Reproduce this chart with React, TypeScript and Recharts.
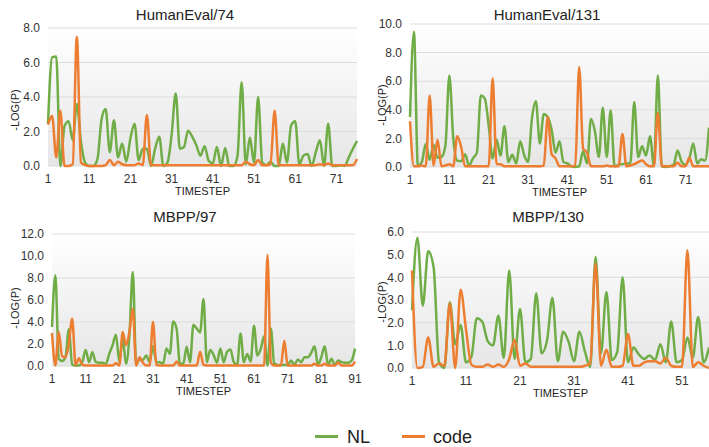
import React from "react"
import { LineChart, Line, XAxis, YAxis, CartesianGrid } from "recharts"

// HumanEval/74
const he74NL = [
  2.45, 6.3, 6.35, 0, 2.3, 2.6, 1.5, 3.6, 1.4, 0.2,
  0, 0, 0.4, 2.7, 3.3, 0.8, 2.65, 0.5, 1.3, 0.25,
  1.6, 2.45, 0.35, 1.0, 1.0, 0, 1.0, 1.7, 0, 0.2,
  1.8, 4.2, 1.0, 1.1, 2.05, 1.7, 1.2, 0.6, 1.15, 0.3,
  0.15, 1.1, 0, 1.05, 0, 0, 0.6, 4.85, 0.1, 1.65,
  0.2, 4.0, 0.2, 0.05, 0.25, 0, 0, 1.3, 0.2, 2.35,
  2.6, 0.1, 0.6, 0.7, 0, 0.8, 1.5, 0, 2.45, 0,
  0, 0.05, 0, 0.5, 1.0, 1.45,
]
const he74Code = [
  2.4, 2.9, 0.5, 3.2, 0, 0, 0.1, 7.5, 0.2, 0.05,
  0, 0, 0, 0, 0.05, 0.35, 0.05, 0.25, 0.1, 0.05,
  0.05, 0.05, 0.15, 0.05, 2.95, 0.05, 0.05, 0.05, 0.05, 0.05,
  0.05, 0.05, 0.05, 0.05, 0.05, 0.05, 0.05, 0.05, 0.05, 0.05,
  0.05, 0.05, 0.05, 0.05, 0.05, 0.05, 0.05, 0.05, 0.25, 0.1,
  0.05, 0.35, 0.05, 0.05, 0.1, 3.2, 0.05, 0.05, 0.05, 0.05,
  0.05, 0.05, 0.05, 0.05, 0.05, 0.05, 0.1, 0.05, 0.15, 0.05,
  0.05, 0.05, 0.05, 0.05, 0.05, 0.4,
]

// HumanEval/131
const he131NL = [
  3.5, 9.45, 0.1, 0.35, 1.6, 0.5, 1.55, 0.65, 0.7, 1.5,
  6.4, 2.0, 0.45, 0.4, 0.9, 0.1, 0.6, 1.0, 5.0, 4.8,
  2.9, 0.6, 1.9, 0.8, 2.85, 0.35, 0.85, 0.25, 1.8, 0.85,
  0.35, 3.4, 4.6, 1.65, 3.7, 3.5, 2.6, 1.0, 1.8, 0.35,
  0.25, 0.05, 0, 0.05, 1.1, 0.25, 3.35, 2.5, 0.7, 4.15,
  0.7, 3.95, 0.05, 0.15, 0.2, 0.25, 0.25, 4.55, 0.7, 1.45,
  0.8, 2.15, 0.1, 6.4, 0.05, 0, 0.05, 0.15, 1.15, 0.4,
  0.15, 0.6, 1.65, 0.25, 0.55, 0.45, 2.75,
]
const he131Code = [
  3.2, 0.05, 0.05, 0.1, 0.05, 5.0, 0.1, 1.9, 0.05, 0.1,
  0.2, 0.05, 2.15, 1.4, 0.05, 0.05, 0.05, 0.05, 0.05, 0.05,
  0.05, 6.2, 0.2, 0.2, 0.05, 0.05, 0.05, 0.05, 0.05, 0.05,
  0.05, 0.05, 0.05, 0.05, 0.1, 3.5, 0.9, 0.6, 0.05, 0.05,
  0.05, 0.05, 0.1, 7.0, 1.3, 1.0, 0.05, 0.05, 0.05, 0.05,
  0.1, 0.05, 0.05, 0.05, 2.3, 0.05, 0.1, 0.2, 0.35, 0.45,
  0.2, 0.05, 0.05, 3.8, 0.05, 0.05, 0.05, 0.05, 0.3, 0.05,
  0.05, 0.65, 0.05, 0.05, 0.05, 0.05, 0.05,
]

// MBPP/97
const mb97NL = [
  3.55, 8.25, 0.65, 0.45, 0.8, 3.35, 0.1, 0.05, 0.05, 0.35,
  1.45, 0.35, 1.25, 0.35, 0.3, 0.3, 0.2, 1.1, 1.9, 2.85,
  0.4, 2.5, 0.2, 2.8, 8.55, 0.2, 0.6, 0.55, 0.95, 0.35,
  1.8, 0.35, 0.35, 0.2, 1.6, 1.1, 4.05, 3.4, 0.2, 0.2,
  1.75, 0.35, 3.75, 3.4, 3.05, 6.1, 0.35, 1.45, 1.0, 0.3,
  1.6, 0.35, 1.3, 1.5, 0.35, 0.1, 2.95, 0.35, 1.1, 0.4,
  3.65, 0.95, 1.55, 2.7, 0.05, 3.4, 0.25, 0.1, 0.1, 0.1,
  0.1, 0.5, 0.1, 0.6, 0.35, 0.8, 0.8, 1.2, 1.8, 0.1,
  0.8, 1.8, 0.1, 0.65, 0.1, 0.5, 0.35, 0.3, 0.3, 0.5,
  1.6,
]
const mb97Code = [
  3.0, 0.05, 3.1, 0.9, 0.8, 2.0, 4.3, 0.1, 0.7, 0.1,
  0.05, 0.05, 0.05, 0.05, 0.05, 0.05, 0.05, 0.05, 0.05, 0.25,
  0.05, 3.1, 1.9, 3.1, 5.2, 0.05, 0.8, 0.3, 0.05, 0.05,
  4.0, 0.1, 0.05, 0.05, 0.05, 0.05, 0.05, 0.4, 0.05, 0.05,
  0.05, 0.05, 0.05, 0.05, 1.3, 0.1, 0.05, 0.05, 0.05, 0.05,
  0.05, 0.05, 0.05, 0.05, 0.05, 0.05, 0.05, 0.05, 0.05, 0.05,
  0.05, 0.05, 0.05, 0.05, 10.1, 0.3, 0.05, 0.05, 0.05, 2.3,
  0.05, 0.05, 0.05, 0.05, 0.05, 0.05, 0.05, 0.05, 0.2, 0.05,
  0.05, 0.2, 0.05, 0.05, 0.05, 0.3, 0.05, 0.05, 0.05, 0.05,
  0.4,
]

// MBPP/130
const mb130NL = [
  2.55, 5.75, 2.75, 5.15, 4.45, 0.25, 0, 2.9, 1.05, 1.9,
  0.25, 0.5, 2.2, 2.05, 1.2, 1.0, 2.3, 0.45, 4.3, 0.4,
  2.6, 0.25, 0.4, 3.3, 0.65, 1.2, 3.1, 0.3, 1.6, 1.15,
  0.3, 1.6, 0.75, 0.05, 4.9, 0.65, 3.35, 0.35, 0.7, 4.0,
  0.25, 0.9, 0.6, 0.4, 0.55, 0.35, 1.05, 0.25, 2.05, 0.25,
  0.35, 1.35, 0.45, 2.25, 0.25, 0.9,
]
const mb130Code = [
  4.3, 0, 0.05, 1.35, 0.05, 0.2, 0.1, 2.85, 0, 3.45,
  1.7, 0.15, 0.05, 0.05, 0.15, 0.05, 0.15, 0.05, 0.4, 1.25,
  0.1, 0.2, 0.05, 0.05, 0.05, 0.05, 0.05, 0.05, 0.05, 0.05,
  0.05, 0.05, 0.1, 0.2, 4.6, 0.1, 0.8, 0.05, 0.05, 0.1,
  1.5, 0.1, 0.1, 0.25, 0.3, 0.3, 0.2, 0.45, 0.1, 0.05,
  0.05, 5.2, 0.05, 0.25, 0.1, 0,
]

const ticks74 = [0, 2, 4, 6, 8]
const ticks131 = [0, 2, 4, 6, 8, 10]
const ticks97 = [0, 2, 4, 6, 8, 10, 12]
const ticks130 = [0, 1, 2, 3, 4, 5, 6]

const GREEN = "#70ad47"
const ORANGE = "#ed7d31"

function toRows(nl: number[], code: number[]) {
  return nl.map((v, i) => ({ t: i + 1, NL: v, code: code[i] }))
}

type PanelProps = {
  id: string
  title: string
  nl: number[]
  code: number[]
  ticks: number[]
  left: number
  top: number
  width: number
  margin: { top: number; right: number; left: number; bottom: number }
  yWidth: number
  titleX: number
  titleY: number
  labelX: number
  labelY: number
}

function Panel(p: PanelProps) {
  const data = toRows(p.nl, p.code)
  return (
    <>
      <div
        style={{
          position: "absolute",
          left: p.titleX,
          top: p.titleY,
          transform: "translate(-50%, -50%)",
          fontSize: 15,
          color: "#222",
          whiteSpace: "nowrap",
        }}
      >
        {p.title}
      </div>
      <div
        style={{
          position: "absolute",
          left: p.labelX,
          top: p.labelY,
          transform: "translate(-50%, -50%) rotate(-90deg)",
          fontSize: 11,
          color: "#222",
          whiteSpace: "nowrap",
        }}
      >
        -LOG(P)
      </div>
      <div style={{ position: "absolute", left: p.left, top: p.top }}>
        <LineChart width={p.width} height={200} data={data} margin={p.margin}>
          <defs>
            <linearGradient id={p.id} x1="0" y1="0" x2="0" y2="1">
              <stop offset="0%" stopColor="#ffffff" />
              <stop offset="100%" stopColor="#e6e6e6" />
            </linearGradient>
          </defs>
          <CartesianGrid vertical={false} stroke="#dcdcdc" fill={`url(#${p.id})`} />
          <XAxis
            dataKey="t"
            interval={9}
            axisLine={false}
            tickLine={false}
            height={30}
            tick={{ fontSize: 12, fill: "#333" }}
            label={{ value: "TIMESTEP", position: "insideBottom", offset: 1, fontSize: 11, fill: "#222" }}
          />
          <YAxis
            width={p.yWidth}
            domain={[0, p.ticks[p.ticks.length - 1]]}
            ticks={p.ticks}
            axisLine={false}
            tickLine={false}
            tick={{ fontSize: 12, fill: "#333" }}
            tickFormatter={(v) => Number(v).toFixed(1)}
          />
          <Line type="monotone" dataKey="NL" stroke={GREEN} strokeWidth={2.5} dot={false} isAnimationActive={false} />
          <Line type="monotone" dataKey="code" stroke={ORANGE} strokeWidth={2.5} dot={false} isAnimationActive={false} />
        </LineChart>
      </div>
    </>
  )
}

export default function App() {
  return (
    <div
      style={{
        position: "absolute",
        left: 0,
        top: 0,
        width: 709,
        height: 447,
        overflow: "hidden",
        background: "#fff",
        fontFamily: "'Liberation Sans', Arial, sans-serif",
      }}
    >
      <Panel
        id="g74"
        title="HumanEval/74"
        nl={he74NL}
        code={he74Code}
        ticks={ticks74}
        left={0}
        top={0}
        width={360}
        margin={{ top: 28, right: 3, left: 0, bottom: 4 }}
        yWidth={48}
        titleX={185}
        titleY={14}
        labelX={15}
        labelY={110}
      />
      <Panel
        id="g131"
        title="HumanEval/131"
        nl={he131NL}
        code={he131Code}
        ticks={ticks131}
        left={360}
        top={0}
        width={349}
        margin={{ top: 24, right: 0, left: 0, bottom: 3 }}
        yWidth={50}
        titleX={547}
        titleY={14}
        labelX={382}
        labelY={105}
      />
      <Panel
        id="g97"
        title="MBPP/97"
        nl={mb97NL}
        code={mb97Code}
        ticks={ticks97}
        left={0}
        top={200}
        width={372}
        margin={{ top: 34, right: 17, left: 0, bottom: 4 }}
        yWidth={52}
        titleX={185}
        titleY={216}
        labelX={15}
        labelY={308}
      />
      <Panel
        id="g130"
        title="MBPP/130"
        nl={mb130NL}
        code={mb130Code}
        ticks={ticks130}
        left={360}
        top={200}
        width={349}
        margin={{ top: 32, right: 0, left: 0, bottom: 2 }}
        yWidth={52}
        titleX={548}
        titleY={216}
        labelX={382}
        labelY={302}
      />
      <div style={{ position: "absolute", left: 315, top: 435, width: 23, height: 3, background: GREEN }} />
      <div style={{ position: "absolute", left: 347, top: 437, transform: "translateY(-50%)", fontSize: 18, color: "#222" }}>
        NL
      </div>
      <div style={{ position: "absolute", left: 402, top: 435, width: 23, height: 3, background: ORANGE }} />
      <div style={{ position: "absolute", left: 433, top: 437, transform: "translateY(-50%)", fontSize: 18, color: "#222" }}>
        code
      </div>
    </div>
  )
}
